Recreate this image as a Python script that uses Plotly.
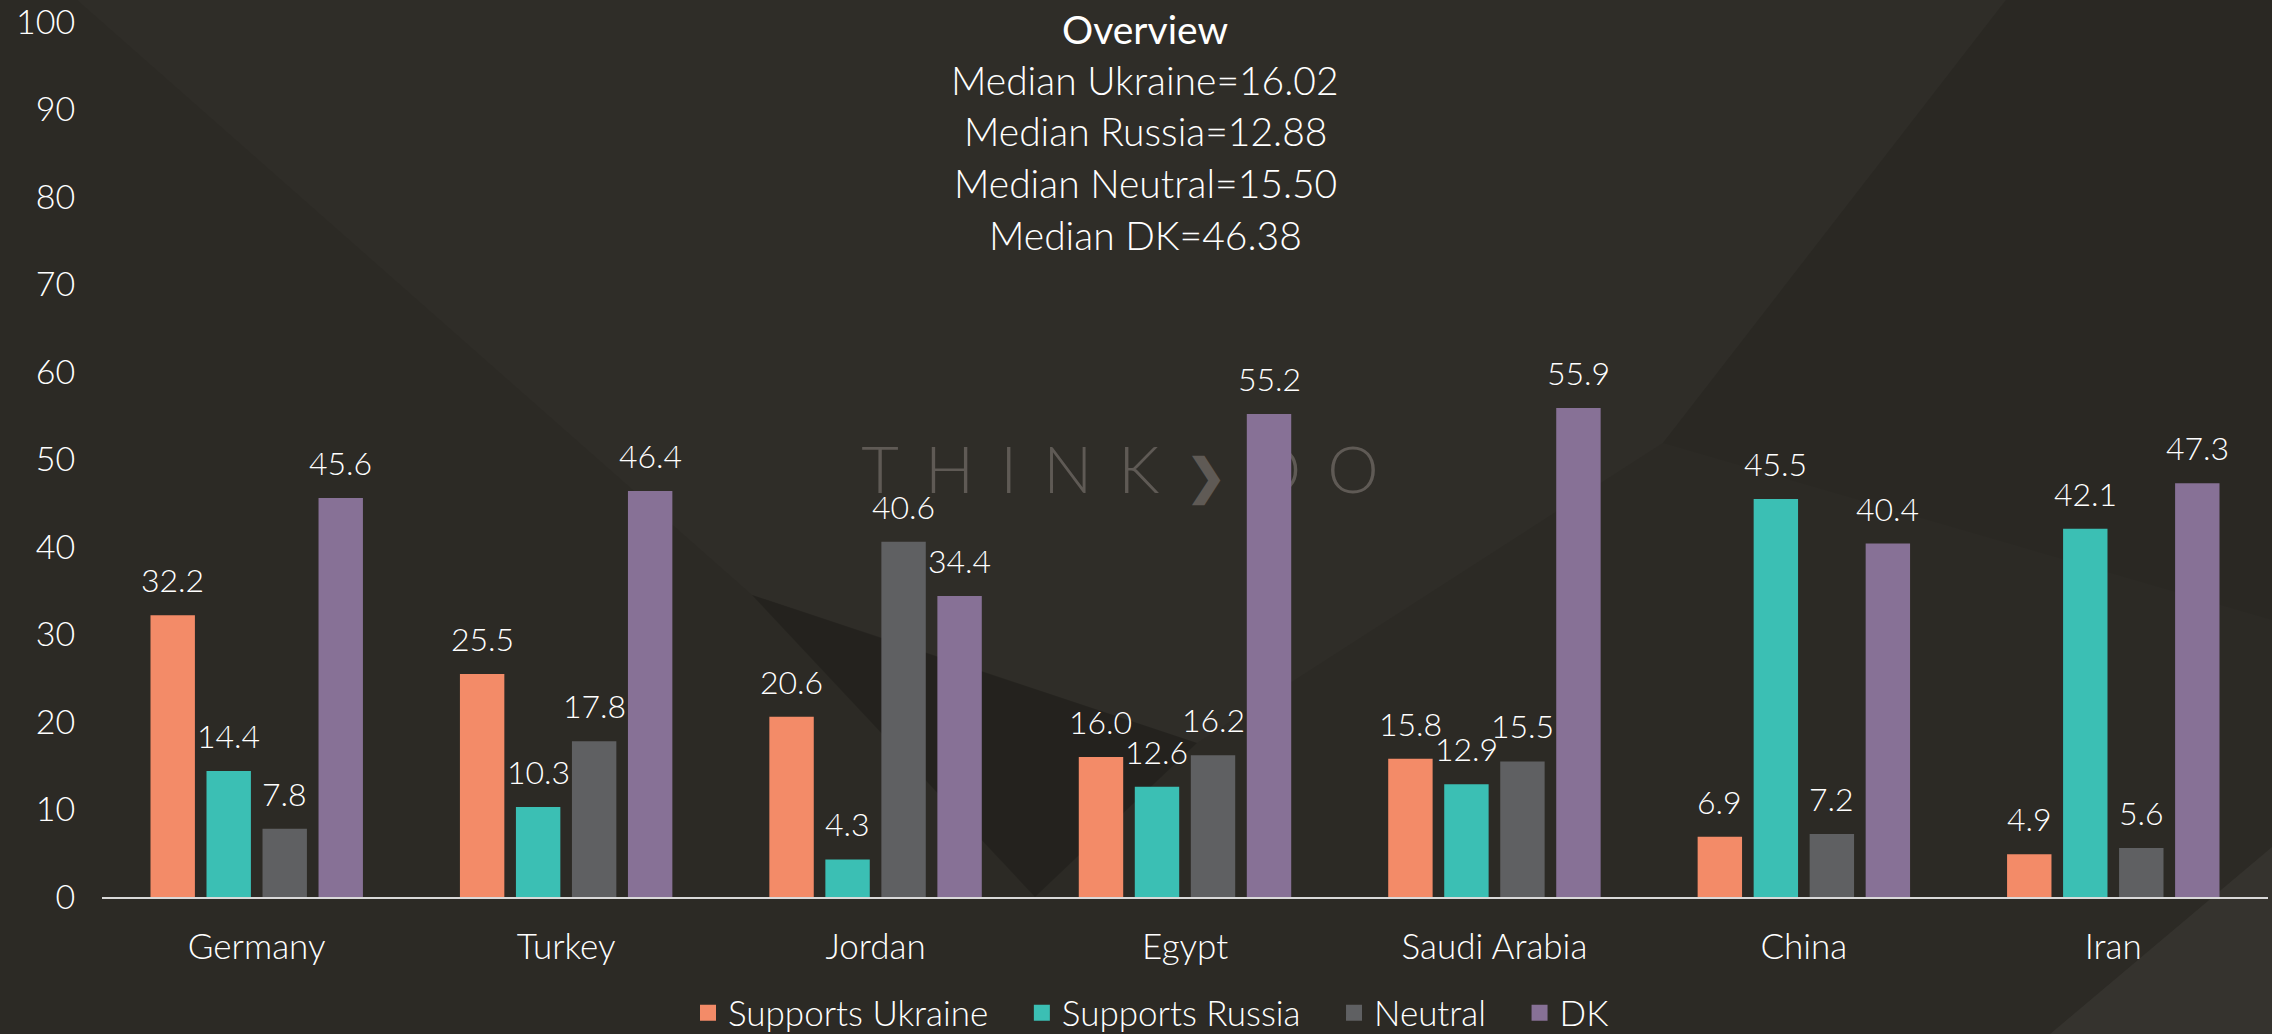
import plotly.graph_objects as go

# ---------------- data ----------------
countries = ["Germany", "Turkey", "Jordan", "Egypt", "Saudi Arabia", "China", "Iran"]
supports_ukraine = [32.2, 25.5, 20.6, 16.0, 15.8, 6.9, 4.9]
supports_russia = [14.4, 10.3, 4.3, 12.6, 12.9, 45.5, 42.1]
neutral = [7.8, 17.8, 40.6, 16.2, 15.5, 7.2, 5.6]
dk = [45.6, 46.4, 34.4, 55.2, 55.9, 40.4, 47.3]
series_names = ["Supports Ukraine", "Supports Russia", "Neutral", "DK"]
title_lines = ["Overview", "Median Ukraine=16.02", "Median Russia=12.88",
               "Median Neutral=15.50", "Median DK=46.38"]
y_ticks = [0, 10, 20, 30, 40, 50, 60, 70, 80, 90, 100]
watermark = "THINK\u276FDO"

# ---------------- style ----------------
W, H = 2272, 1034
ML, MR, MT, MB = 102, 4, 22, 137
PW, PH = W - ML - MR, H - MT - MB
colors = ["#F38B68", "#3BBFB4", "#5F6062", "#877196"]
FONT = "Lato"
BG = "#2C2A25"
BARGAP, BARGROUPGAP = 0.276, 0.207
LABEL_LIFT = 14  # px between bar top and value label box


def px(x):
    return (x - ML) / PW


def py(y):
    return (H - MB - y) / PH


def path(points):
    return "M" + " L".join(f"{px(x):.5f},{py(y):.5f}" for x, y in points) + " Z"


all_series = [supports_ukraine, supports_russia, neutral, dk]
n_series = len(all_series)
slot_px = PW / len(countries) * (1 - BARGAP) / n_series  # width of one bar slot in a group

fig = go.Figure()
pad = "\u00a0" * 3
annotations = []
for i, (name, vals, col) in enumerate(zip(series_names, all_series, colors)):
    fig.add_trace(go.Bar(
        x=countries, y=vals, name=name, legendgroup=name, showlegend=False,
        marker=dict(color=col, line=dict(width=0)),
        hoverinfo="x+y+name",
    ))
    # legend entry with a larger colour swatch
    fig.add_trace(go.Scatter(
        x=[None], y=[None], mode="markers", name=name + (pad if i < 3 else ""),
        legendgroup=name, showlegend=True,
        marker=dict(symbol="square", size=16, color=col, line=dict(width=0)),
    ))
    # value labels, placed on the data scales above each bar
    for c, v in zip(countries, vals):
        annotations.append(dict(
            text=f"{v:.1f}", x=c, y=v, xref="x", yref="y",
            xshift=(i - (n_series - 1) / 2) * slot_px, yshift=LABEL_LIFT,
            xanchor="center", yanchor="bottom", showarrow=False,
            font=dict(family=FONT, size=32, color="#FFFFFF", weight=300),
        ))

shapes = []
# subtle background geometry
bg_polys = [
    ([(77, 0), (752, 595), (1197, 743), (1663, 443), (2006, 0)], "rgba(255,255,255,0.015)"),
    ([(2006, 0), (2272, 0), (2272, 620), (1663, 443)], "rgba(0,0,0,0.04)"),
    ([(752, 595), (1197, 743), (1035, 897)], "rgba(0,0,0,0.17)"),
    ([(2272, 847), (2272, 1034), (2050, 1034)], "rgba(255,255,255,0.045)"),
]
for pts, fill in bg_polys:
    shapes.append(dict(type="path", xref="paper", yref="paper", path=path(pts),
                       fillcolor=fill, line=dict(width=0), layer="below"))

# watermark (below bars)
gap = "<span style='font-size:96px'>\u00a0</span>"
letters = [("<span style='font-size:48px;font-weight:700'>%s</span>" % c) if c == "\u276F" else c
           for c in watermark]
wm_text = gap.join(letters)
shapes.append(dict(type="rect", xref="paper", yref="paper",
                   x0=px(860), x1=px(1380), y0=py(525), y1=py(445),
                   line=dict(width=0), fillcolor="rgba(0,0,0,0)", layer="below",
                   label=dict(text=wm_text, textposition="middle center",
                              font=dict(family=FONT, size=65, color="#5F5A55", weight=300))))

title_y = [29, 80, 131, 183, 235]
for i, (line, yy) in enumerate(zip(title_lines, title_y)):
    annotations.append(dict(
        text=line, xref="paper", yref="paper", x=px(1145), y=py(yy),
        xanchor="center", yanchor="middle", showarrow=False,
        font=dict(family=FONT, size=39, color="#FFFFFF", weight=400 if i == 0 else 300),
    ))

fig.update_layout(
    width=W, height=H,
    margin=dict(l=ML, r=MR, t=MT, b=MB, pad=0, autoexpand=False),
    paper_bgcolor=BG, plot_bgcolor="rgba(0,0,0,0)",
    barmode="group", bargap=BARGAP, bargroupgap=BARGROUPGAP,
    font=dict(family=FONT, color="#FFFFFF", weight=300),
    showlegend=True,
    legend=dict(orientation="h", x=px(1151), xanchor="center",
                yref="container", y=(H - 1013) / H, yanchor="middle",
                font=dict(family=FONT, size=35, color="#FFFFFF", weight=300),
                bgcolor="rgba(0,0,0,0)", traceorder="normal", itemclick=False,
                itemdoubleclick=False),
    shapes=shapes,
    annotations=annotations,
    xaxis=dict(showline=True, linecolor="#D9D9D9", linewidth=2, showgrid=False,
               ticks="outside", ticklen=18, tickcolor="rgba(0,0,0,0)", automargin=False,
               tickfont=dict(family=FONT, size=35, color="#FFFFFF", weight=300),
               zeroline=False, fixedrange=True, type="category"),
    yaxis=dict(range=[0, 100], tickvals=y_ticks, showgrid=False, showline=False, zeroline=False,
               ticks="outside", ticklen=19, tickcolor="rgba(0,0,0,0)", automargin=False,
               ticklabeloverflow="allow",
               tickfont=dict(family=FONT, size=34, color="#FFFFFF", weight=300),
               fixedrange=True),
)

fig.write_html("out.html", include_plotlyjs=True, full_html=True,
               config={"displayModeBar": False},
               post_script="document.body.style.margin='0';document.body.style.overflow='hidden';")
